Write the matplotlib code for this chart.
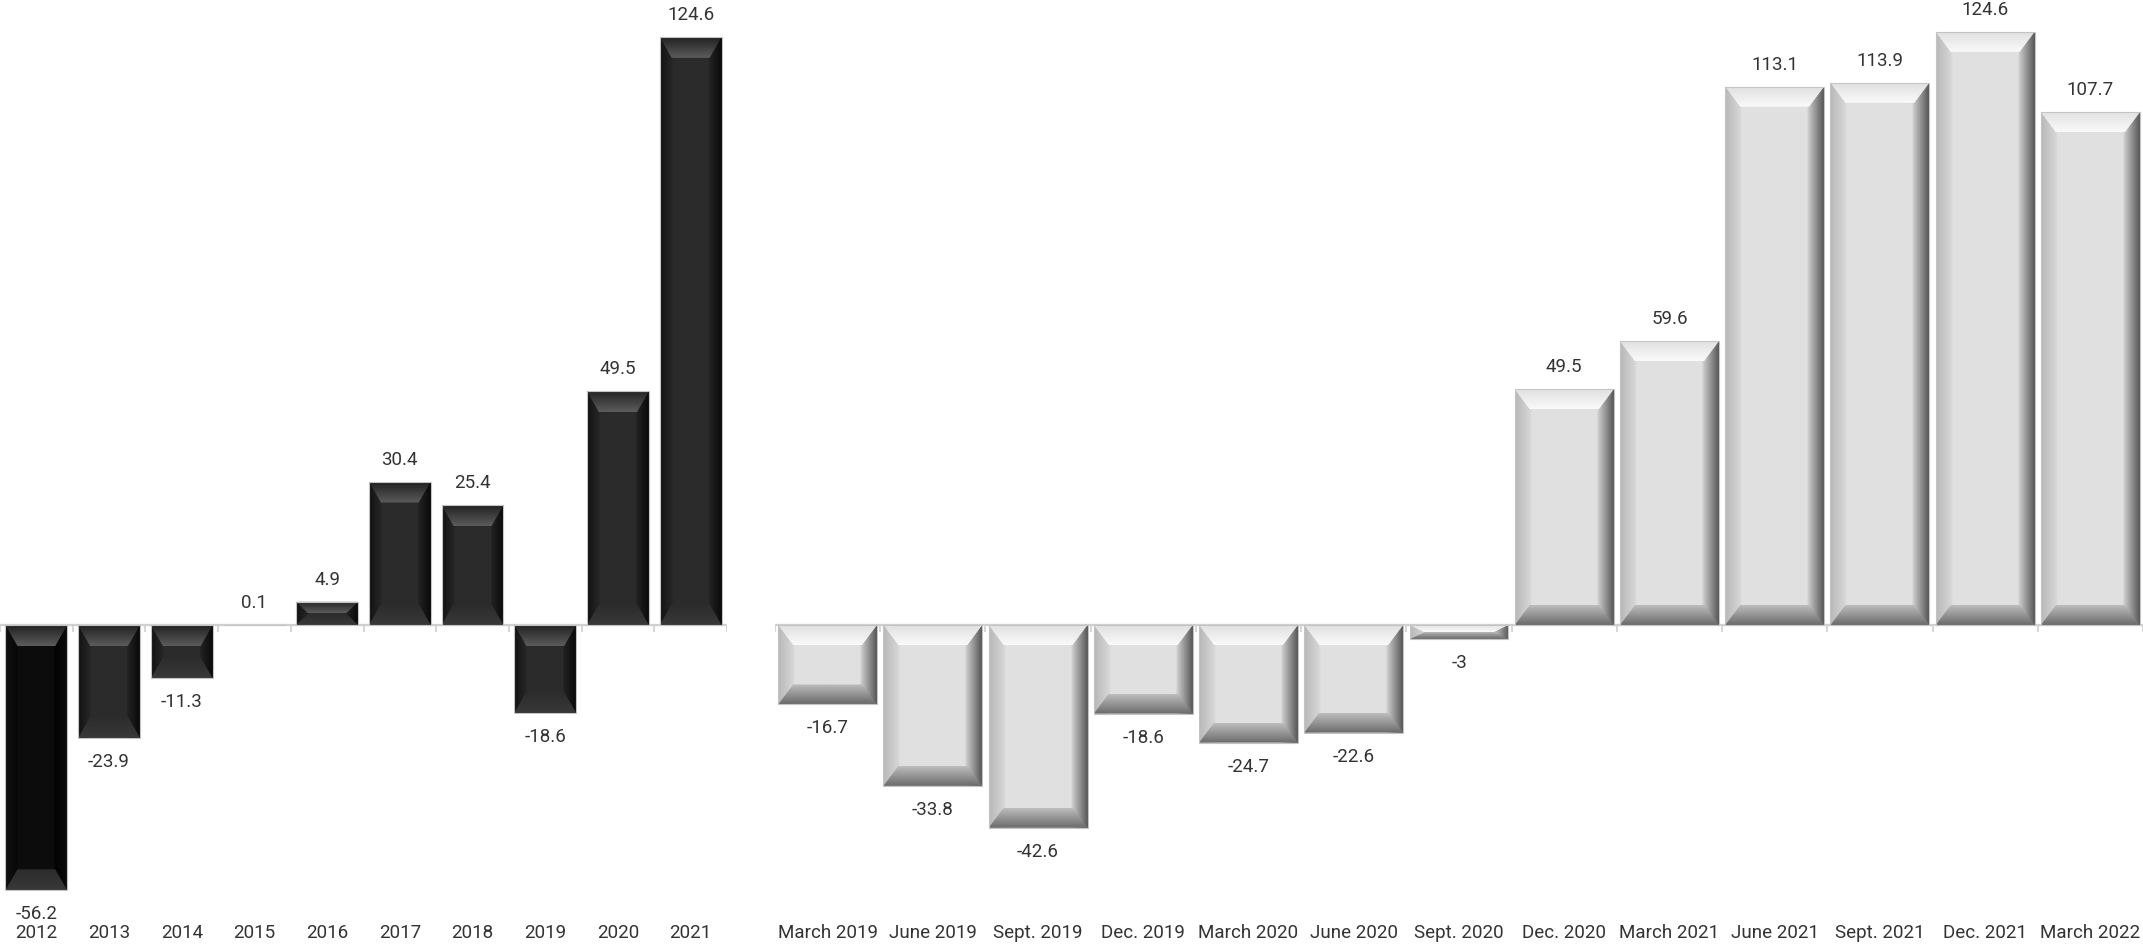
import numpy as np
import matplotlib
matplotlib.use("Agg")
import matplotlib.pyplot as plt
from matplotlib.patches import Polygon

plt.rcParams['font.family'] = ['Roboto', 'DejaVu Sans']

# data
years = ['2012', '2013', '2014', '2015', '2016', '2017', '2018', '2019', '2020', '2021']
year_values = [-56.2, -23.9, -11.3, 0.1, 4.9, 30.4, 25.4, -18.6, 49.5, 124.6]

quarters = ['March 2019', 'June 2019', 'Sept. 2019', 'Dec. 2019', 'March 2020',
            'June 2020', 'Sept. 2020', 'Dec. 2020', 'March 2021', 'June 2021',
            'Sept. 2021', 'Dec. 2021', 'March 2022']
quarter_values = [-16.7, -33.8, -42.6, -18.6, -24.7, -22.6, -3, 49.5, 59.6,
                  113.1, 113.9, 124.6, 107.7]

W, H = 2143, 949
BASE = 625  # baseline, pixels from top
TXT = '#333333'

fig = plt.figure(figsize=(W / 100, H / 100), dpi=100)


def make_axes(x0_px, x1_px, scale, n):
    ax = fig.add_axes([x0_px / W, 0, (x1_px - x0_px) / W, 1])
    ax.set_xlim(-0.5, n - 0.5)
    ax.set_ylim(-(H - BASE) / scale, BASE / scale)
    ax.axis('off')
    return ax


def px_to_data(ax, px, py):
    inv = ax.transData.inverted()
    a = inv.transform((0, 0))
    b = inv.transform((px, py))
    return b[0] - a[0], b[1] - a[1]


def vgrad_poly(ax, pts, y_edge, y_inner, g_edge, g_inner, x0, x1):
    # polygon filled with a vertical grey ramp, edge -> inner
    poly = Polygon(pts, closed=True, fc='none', ec='none', zorder=3)
    ax.add_patch(poly)
    g = np.linspace(g_edge, g_inner, 64)
    if y_edge > y_inner:
        g = g[::-1]  # image rows go bottom -> top with origin lower
    img = np.repeat(g[:, None, None], 3, axis=2)
    lo, hi = min(y_edge, y_inner), max(y_edge, y_inner)
    im = ax.imshow(img, extent=(x0, x1, lo, hi), origin='lower', aspect='auto',
                   interpolation='bilinear', zorder=3)
    im.set_clip_path(poly)


def bevel_bar(ax, bar, stops, top_g, bot_g, bev_px):
    x0, w = bar.get_x(), bar.get_width()
    x1 = x0 + w
    y, h = bar.get_y(), bar.get_height()
    ylo, yhi = min(y, y + h), max(y, y + h)
    if yhi - ylo <= 0.2:
        return
    dx, dy = px_to_data(ax, *bev_px)
    dy = min(dy, (yhi - ylo) / 2)
    dx = min(dx, w / 2)
    f = dx / w
    # horizontal gradient for the face and side bevels
    t = np.linspace(0, 1, 300)
    pos = [0, f, f + 0.02, 1 - f - 0.02, 1 - f, 1]
    g = np.interp(t, pos, stops)
    img = np.repeat(g[None, :, None], 3, axis=2)
    im = ax.imshow(img, extent=(x0, x1, ylo, yhi), aspect='auto',
                   interpolation='bilinear', zorder=2)
    im.set_clip_path(bar)
    vgrad_poly(ax, [(x0, yhi), (x1, yhi), (x1 - dx, yhi - dy), (x0 + dx, yhi - dy)],
               yhi, yhi - dy, top_g[0], top_g[1], x0, x1)
    vgrad_poly(ax, [(x0, ylo), (x1, ylo), (x1 - dx, ylo + dy), (x0 + dx, ylo + dy)],
               ylo, ylo + dy, bot_g[0], bot_g[1], x0, x1)


def draw_panel(ax, labels, values, width, style):
    n = len(values)
    x = np.arange(n)
    bars = ax.bar(x, values, width=width, color='none', edgecolor='#c4c4c4',
                  linewidth=0.8, zorder=4)
    for i, bar in enumerate(bars):
        if style == 'dark':
            face = 0.05 if i == 0 else 0.17
            stops = [0.07, face - 0.02, face, face, face - 0.04, 0.04]
            bevel_bar(ax, bar, stops, (0.13, 0.36), (0.22, 0.17), (12, 21))
        else:
            stops = [0.72, 0.84, 0.88, 0.88, 0.78, 0.34]
            bevel_bar(ax, bar, stops, (0.88, 0.98), (0.42, 0.74), (15, 20))

    # baseline and ticks
    ax.plot([-0.5, n - 0.5], [0, 0], color='#d0d0d0', lw=1.6, zorder=1)
    _, tdy = px_to_data(ax, 0, 7)
    ax.vlines(np.arange(n + 1) - 0.5, -tdy, 0, color='#d0d0d0', lw=1.2, zorder=1)

    for i, v in enumerate(values):
        off = 22 if v >= 0 else -24
        ax.annotate(f'{v:g}', (i, v), xytext=(0, off), textcoords='offset pixels',
                    ha='center', va='center', fontsize=13.5, color=TXT)
        ax.text(i, 1 - 933 / H, labels[i], transform=ax.get_xaxis_transform(),
                ha='center', va='center', fontsize=13.5, color=TXT)


ax_l = make_axes(0, 727, 4.72, len(years))
draw_panel(ax_l, years, year_values, 0.85, 'dark')

ax_r = make_axes(775, 2143, 4.76, len(quarters))
draw_panel(ax_r, quarters, quarter_values, 0.94, 'light')

fig.savefig('out.png', dpi=100, facecolor='white')
